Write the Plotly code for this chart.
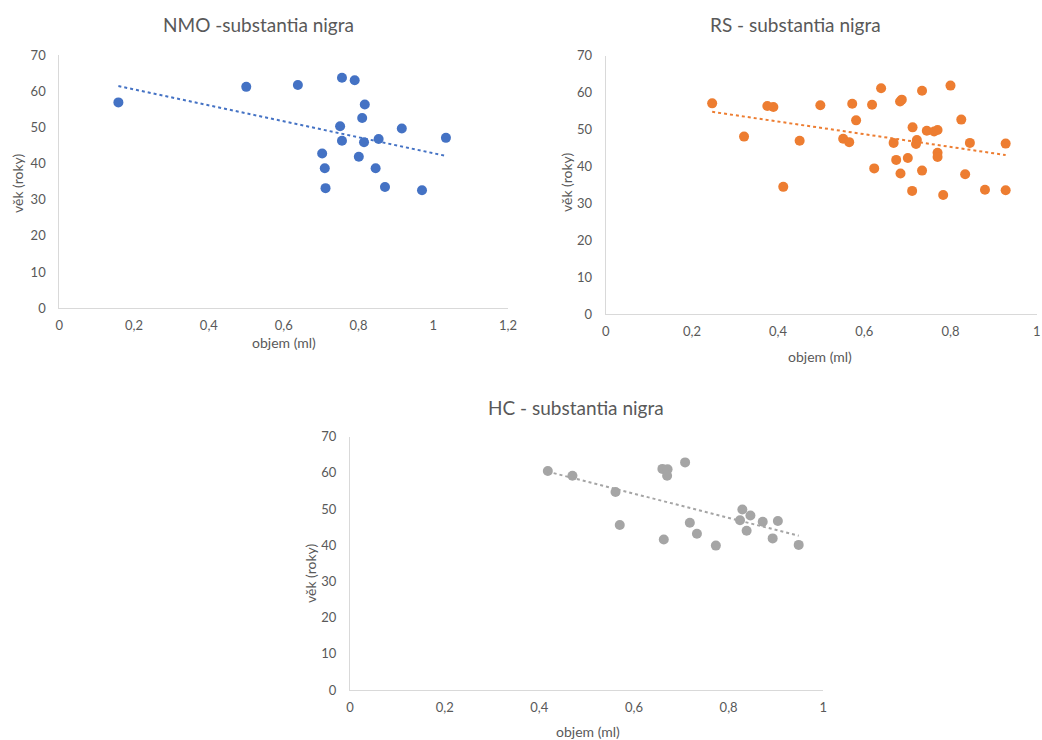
import numpy as np
import plotly.graph_objects as go

# NMO group: substantia nigra volume (ml) vs. age (years)
nmo_volume = [0.158, 0.500, 0.638, 0.756, 0.790, 0.817, 0.810, 0.751, 0.916, 1.034,
              0.756, 0.815, 0.854, 0.703, 0.801, 0.710, 0.846, 0.712, 0.871, 0.970]
nmo_age = [56.9, 61.2, 61.7, 63.7, 63.0, 56.3, 52.6, 50.3, 49.7, 47.1,
           46.3, 45.9, 46.8, 42.8, 41.9, 38.7, 38.7, 33.2, 33.5, 32.6]

# RS group
rs_volume = [0.247, 0.375, 0.389, 0.498, 0.572, 0.581, 0.321, 0.450, 0.551, 0.565,
             0.412, 0.639, 0.618, 0.683, 0.687, 0.734, 0.800, 0.825, 0.712, 0.745,
             0.762, 0.770, 0.668, 0.722, 0.720, 0.845, 0.928, 0.770, 0.770, 0.674,
             0.701, 0.623, 0.684, 0.734, 0.834, 0.711, 0.783, 0.880, 0.928]
rs_age = [57.1, 56.4, 56.1, 56.6, 57.0, 52.5, 48.1, 47.0, 47.5, 46.6,
          34.5, 61.2, 56.7, 57.6, 58.1, 60.5, 61.9, 52.7, 50.6, 49.7,
          49.5, 49.9, 46.4, 47.2, 46.1, 46.4, 46.2, 43.7, 42.6, 41.8,
          42.3, 39.5, 38.1, 38.9, 37.9, 33.4, 32.3, 33.7, 33.6]

# HC group
hc_volume = [0.418, 0.470, 0.561, 0.570, 0.660, 0.671, 0.670, 0.708, 0.663, 0.718,
             0.733, 0.773, 0.829, 0.846, 0.824, 0.872, 0.904, 0.838, 0.893, 0.948]
hc_age = [60.5, 59.2, 54.7, 45.6, 61.1, 61.0, 59.2, 62.9, 41.6, 46.2,
          43.2, 39.9, 49.9, 48.2, 46.9, 46.5, 46.7, 44.0, 41.9, 40.1]

titles = ["NMO -substantia nigra", "RS - substantia nigra", "HC - substantia nigra"]
x_label = "objem (ml)"
y_label = "věk (roky)"

W, H = 1042, 740
FONT = "Lato, 'Open Sans', sans-serif"
TXT = "#595959"
AXIS = "#d9d9d9"


def px(x):
    return x / W


def py(y):
    return (H - y) / H


panels = [
    dict(x=nmo_volume, y=nmo_age, color="#4472C4", xmax=1.2,
         dom_x=(59.3, 508.0), dom_y=(55.0, 308.3),
         title=(258, 24), xt=(284, 342), yt=(17, 183)),
    dict(x=rs_volume, y=rs_age, color="#ED7D31", xmax=1.0,
         dom_x=(605.7, 1036.7), dom_y=(55.7, 314.3),
         title=(795, 24), xt=(820, 357), yt=(566, 182)),
    dict(x=hc_volume, y=hc_age, color="#A5A5A5", xmax=1.0,
         dom_x=(350.0, 823.3), dom_y=(436.7, 690.0),
         title=(576, 407), xt=(588, 731), yt=(310, 573)),
]

fig = go.Figure()
annotations = []

for i, p in enumerate(panels, start=1):
    xa = "x" if i == 1 else f"x{i}"
    ya = "y" if i == 1 else f"y{i}"

    fig.add_trace(go.Scatter(
        x=p["x"], y=p["y"], mode="markers", xaxis=xa, yaxis=ya,
        marker=dict(color=p["color"], size=10, line=dict(width=0)),
        showlegend=False, hoverinfo="x+y"))

    # linear trendline across the data range
    xs = np.array(p["x"])
    k, q = np.polyfit(xs, np.array(p["y"]), 1)
    tx = np.array([xs.min(), xs.max()])
    fig.add_trace(go.Scatter(
        x=tx, y=k * tx + q, mode="lines", xaxis=xa, yaxis=ya,
        line=dict(color=p["color"], width=2, dash="dot"),
        showlegend=False, hoverinfo="skip"))

    common = dict(showgrid=False, zeroline=False, showline=True, linecolor=AXIS,
                  linewidth=1, ticks="", automargin=False,
                  tickfont=dict(family=FONT, size=13, color=TXT))
    fig.update_layout(**{
        ("xaxis" if i == 1 else f"xaxis{i}"): dict(
            common, domain=[px(p["dom_x"][0]), px(p["dom_x"][1])],
            range=[0, p["xmax"]], dtick=0.2, tick0=0, anchor=ya,
            ticklabelstandoff=5),
        ("yaxis" if i == 1 else f"yaxis{i}"): dict(
            common, domain=[py(p["dom_y"][1]), py(p["dom_y"][0])],
            range=[0, 70], dtick=10, tick0=0, anchor=xa,
            ticklabelstandoff=10),
    })

    annotations.append(dict(
        text=titles[i - 1], x=px(p["title"][0]), y=py(p["title"][1]),
        xref="paper", yref="paper", showarrow=False, xanchor="center", yanchor="middle",
        font=dict(family=FONT, size=19, color=TXT)))
    annotations.append(dict(
        text=x_label, x=px(p["xt"][0]), y=py(p["xt"][1]),
        xref="paper", yref="paper", showarrow=False, xanchor="center", yanchor="middle",
        font=dict(family=FONT, size=14, color=TXT)))
    annotations.append(dict(
        text=y_label, x=px(p["yt"][0]), y=py(p["yt"][1]), textangle=-90,
        xref="paper", yref="paper", showarrow=False, xanchor="center", yanchor="middle",
        font=dict(family=FONT, size=14, color=TXT)))

fig.update_layout(
    width=W, height=H, margin=dict(l=0, r=0, t=0, b=0),
    paper_bgcolor="white", plot_bgcolor="white",
    separators=", ", annotations=annotations,
    font=dict(family=FONT, color=TXT))

# page body without default margin so the figure fills the window exactly
fig.write_html(
    "out.html",
    post_script="document.body.style.margin='0';document.body.style.overflow='hidden';")
